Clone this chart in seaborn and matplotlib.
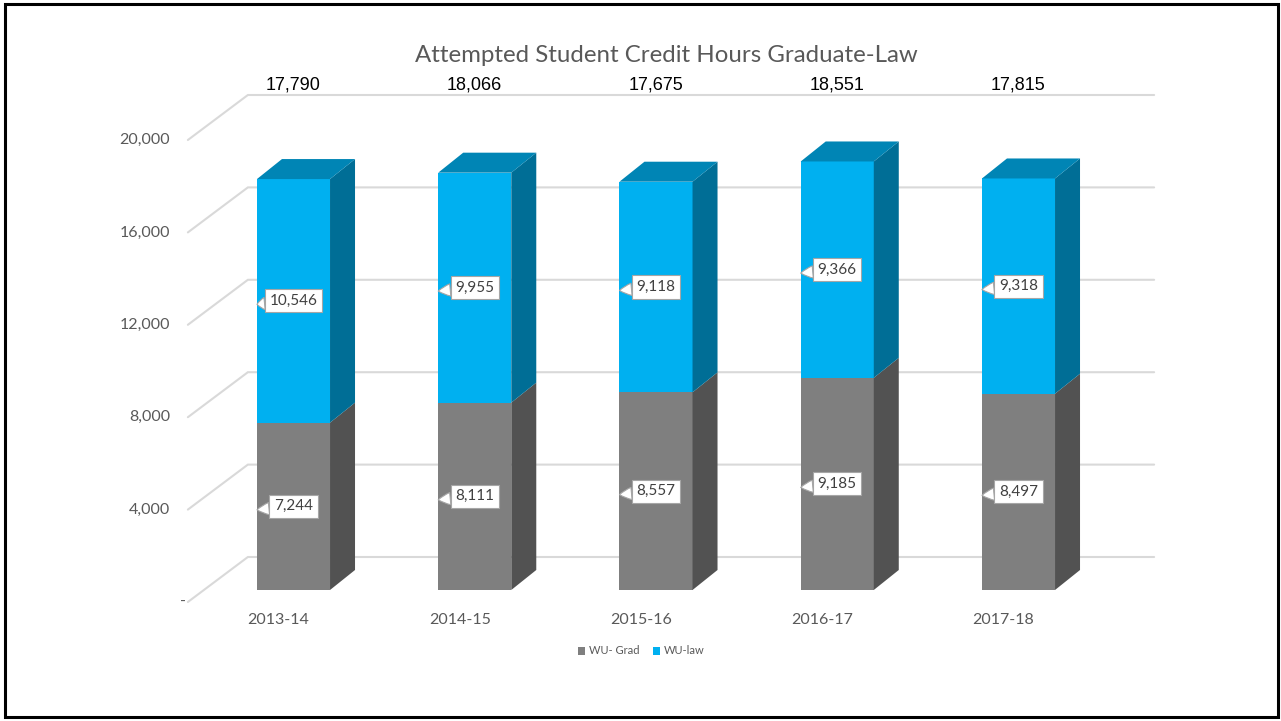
import numpy as np
import pandas as pd
import matplotlib.pyplot as plt
import seaborn as sns
from matplotlib.patches import Polygon, Rectangle, Patch

# 数据
years = ['2013-14', '2014-15', '2015-16', '2016-17', '2017-18']
wu_grad = [7244, 8111, 8557, 9185, 8497]
wu_law = [10546, 9955, 9118, 9366, 9318]
totals = [17790, 18066, 17675, 18551, 17815]
y_ticks = [0, 4000, 8000, 12000, 16000, 20000]
y_tick_labels = ['-', '4,000', '8,000', '12,000', '16,000', '20,000']

GRAY, GRAY_SIDE = '#7f7f7f', '#525252'
BLUE, BLUE_SIDE, BLUE_TOP = '#00b0f0', '#006e96', '#0085b5'
TXT = '#595959'

sns.set_theme(style='white')
plt.rcParams['font.family'] = ['Lato', 'DejaVu Sans']

df = pd.DataFrame({'year': years, 'grad': wu_grad, 'law': wu_law})
df['top'] = df['grad'] + df['law']

fig = plt.figure(figsize=(12.81, 7.21), dpi=100)
ax = fig.add_axes([0, 0, 1, 1])

bw = 0.403  # bar width in category units
sns.barplot(data=df, x='year', y='top', color=BLUE, saturation=1, width=bw,
            linewidth=0, errorbar=None, ax=ax)
sns.barplot(data=df, x='year', y='grad', color=GRAY, saturation=1, width=bw,
            linewidth=0, errorbar=None, ax=ax)

# px -> data: 181.25 px per category, 0.0231 px per unit
ax.set_xlim(-293.5 / 181.25, (1281 - 293.5) / 181.25)
ax.set_ylim(-(721 - 590) / 0.0231, 590 / 0.0231)
ax.axis('off')

# 3d 偏移量
depth = (25 / 181.25, 20 / 0.0231)     # bar depth
front = (-15 / 181.25, -12 / 0.0231)   # axis plane in front of bars
wall = (45 / 181.25, 33 / 0.0231)      # back wall

# 背景网格线
for v in y_ticks:
    x0, y0 = -0.5 + front[0], v + front[1]
    x1, y1 = -0.5 + wall[0], v + wall[1]
    x2 = len(years) - 0.5 + wall[0]
    ax.plot([x0, x1, x2], [y0, y1, y1], color='#d9d9d9', lw=1.5, zorder=0,
            solid_joinstyle='miter')
for v, lab in zip(y_ticks, y_tick_labels):
    off = -2 if v == 0 else -18
    ax.annotate(lab, xy=(-0.5 + front[0], v + front[1]), xytext=(off, 0),
                textcoords='offset pixels', ha='right', va='center',
                fontsize=11.5, color=TXT)

# 侧面和顶面
for i in range(len(years)):
    xr = i + bw / 2
    xl = i - bw / 2
    g, t = wu_grad[i], wu_grad[i] + wu_law[i]
    dx, dy = depth
    ax.add_patch(Polygon([(xr, 0), (xr + dx, dy), (xr + dx, g + dy), (xr, g)],
                         closed=True, fc=GRAY_SIDE, ec='none', zorder=2))
    ax.add_patch(Polygon([(xr, g), (xr + dx, g + dy), (xr + dx, t + dy), (xr, t)],
                         closed=True, fc=BLUE_SIDE, ec='none', zorder=2))
    ax.add_patch(Polygon([(xl, t), (xl + dx, t + dy), (xr + dx, t + dy), (xr, t)],
                         closed=True, fc=BLUE_TOP, ec='none', zorder=2))
    # 数据标签
    for lo, hi in [(0, g), (g, t)]:
        mid = (lo + hi) / 2
        ax.annotate(f'{hi - lo:,}', xy=(xl, mid - 150), xytext=(i, mid),
                    ha='center', va='center', fontsize=11, color='#404040',
                    bbox=dict(boxstyle='square,pad=0.3', fc='white',
                              ec='#a6a6a6', lw=0.8),
                    arrowprops=dict(arrowstyle='wedge,tail_width=0.8,shrink_factor=0.6',
                                    fc='white', ec='#a6a6a6', lw=0.8,
                                    shrinkA=0, shrinkB=0),
                    zorder=4)
    # 总数
    ax.text(i, (590 - 85) / 0.0231, f'{totals[i]:,}', ha='center', va='center',
            fontsize=13, color='black', family=['Liberation Sans', 'DejaVu Sans'])
    # 类别标签
    ax.annotate(years[i], xy=(i + front[0], front[1]), xytext=(0, -18),
                textcoords='offset pixels', ha='center', va='center',
                fontsize=11.5, color=TXT)

fig.text(666 / 1281, 1 - 55 / 721, 'Attempted Student Credit Hours Graduate-Law',
         ha='center', va='center', fontsize=17.3, color=TXT)

handles = [Patch(fc=GRAY, ec='none', label='WU- Grad'),
           Patch(fc=BLUE, ec='none', label='WU-law')]
fig.legend(handles=handles, loc='center', bbox_to_anchor=(641 / 1281, 1 - 651 / 721),
           ncol=2, frameon=False, fontsize=8, labelcolor=TXT, handlelength=0.7,
           handleheight=0.7, handletextpad=0.3, columnspacing=1.2)

fig.add_artist(Rectangle((4.5 / 1281, 4 / 721), 1273.5 / 1281, 713 / 721,
                         transform=fig.transFigure, fill=False, ec='black', lw=2.2))

plt.savefig('out.png', dpi=100)
